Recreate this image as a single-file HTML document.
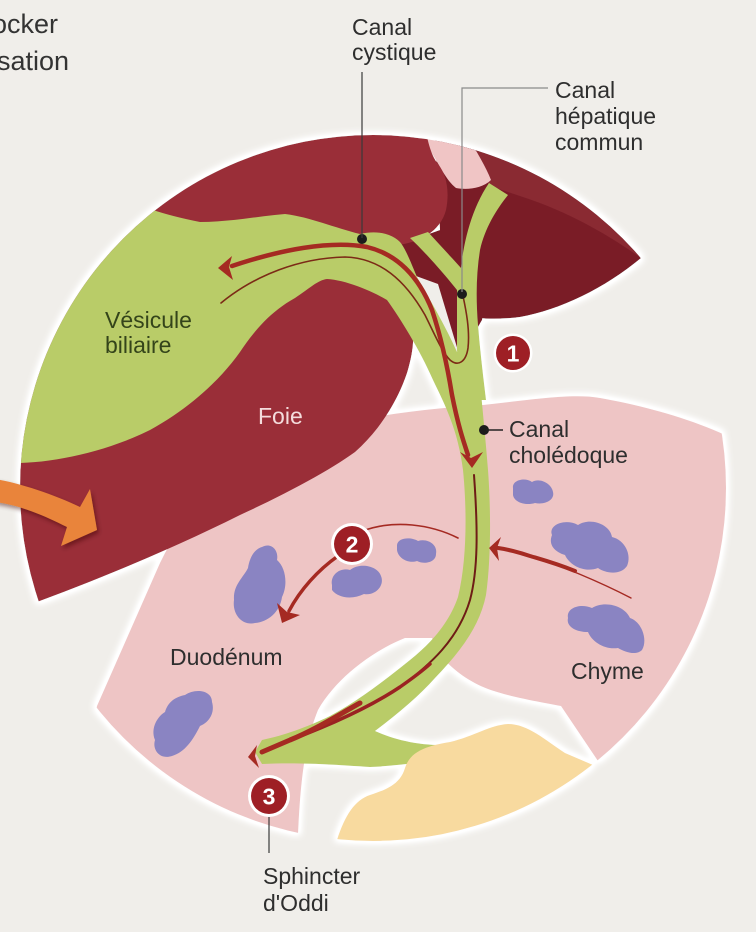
<!DOCTYPE html>
<html><head><meta charset="utf-8"><style>
html,body{margin:0;padding:0;background:#f0eeea;}
svg{display:block;}
text{font-family:"Liberation Sans",Arial,sans-serif;}
</style></head><body>
<svg width="756" height="932" viewBox="0 0 756 932" xmlns="http://www.w3.org/2000/svg">
<defs>
<clipPath id="c"><circle cx="373" cy="488" r="353"/></clipPath>
<filter id="glow" filterUnits="userSpaceOnUse" x="0" y="0" width="756" height="932">
<feMorphology in="SourceAlpha" operator="dilate" radius="2.5" result="d"/>
<feGaussianBlur in="d" stdDeviation="3.5" result="b"/>
<feComponentTransfer in="b" result="b2"><feFuncA type="linear" slope="1.7"/></feComponentTransfer>
<feFlood flood-color="#ffffff" result="w"/>
<feComposite in="w" in2="b2" operator="in" result="g"/>
<feMerge><feMergeNode in="g"/><feMergeNode in="SourceGraphic"/></feMerge>
</filter>
<filter id="sh" filterUnits="userSpaceOnUse" x="0" y="400" width="200" height="200">
<feDropShadow dx="2" dy="3" stdDeviation="2" flood-color="#3a0a0a" flood-opacity="0.45"/>
</filter>
</defs>
<rect width="756" height="932" fill="#f0eeea"/>

<g filter="url(#glow)">
<g clip-path="url(#c)">
<!-- duodenum -->
<path fill="#eec5c5" d="M60,880 L97,706 L160,563 C200,480 260,440 330,425 C380,415 430,408 483,405 C530,400 573,393 600,398 C640,405 700,420 745,445 L760,820 L598,761 L561,706 C540,702 510,697 488,689 C470,682 455,672 440,655 L432,638 L405,638 C370,652 335,680 318,710 C308,735 298,770 297,880 Z"/>
<!-- purple blobs -->
<g fill="#8a84c2">
<path d="M513,488 C512,480 525,477 532,482 C540,477 552,484 553,492 C555,500 545,505 535,503 C525,506 514,502 513,495 Z"/>
<path d="M552,535 C548,525 565,518 578,525 C590,517 610,524 612,537 C625,540 632,555 627,566 C620,576 605,573 598,568 C585,573 570,566 565,555 C555,552 548,545 552,535 Z"/>
<path d="M568,618 C566,608 580,603 592,608 C605,600 625,606 630,618 C642,622 648,640 642,650 C636,656 625,652 618,648 C605,650 592,642 588,632 C575,632 566,626 568,618 Z"/>
<path d="M397,545 C398,537 412,537 418,541 C428,538 438,545 436,554 C436,562 425,565 417,561 C408,564 398,558 397,550 Z"/>
<path d="M332,585 C330,575 340,567 350,570 C360,562 378,566 381,576 C385,586 375,596 364,594 C352,600 338,598 332,590 Z"/>
<path d="M262,547 C271,542 279,550 277,560 C286,568 288,585 282,597 C280,612 268,622 255,623 C242,626 232,614 234,600 C233,585 243,578 248,568 C250,556 255,549 262,547 Z"/>
<path d="M185,695 C195,688 212,690 212,702 C215,712 210,722 200,726 C193,740 185,752 172,756 C160,760 152,750 155,740 C150,728 158,716 165,712 C168,702 175,697 185,695 Z"/>
</g>
<!-- dark V region -->
<path fill="#7a1f28" d="M435,135 L470,135 L495,175 L500,230 L482,320 L460,358 L440,330 L415,275 L398,245 L440,230 Z"/>
<!-- right lobe -->
<path fill="#7a1f28" d="M455,136 C530,150 600,200 641,258 C605,288 560,310 520,317 C505,319 490,319 478,318 L476,250 L480,200 Z"/>
<path fill="#8a2a33" d="M455,136 C530,150 600,200 641,258 C610,236 570,212 520,196 L490,186 L470,160 Z"/>
<!-- pink blob top -->
<path fill="#f0c5c5" d="M415,128 L465,133 C476,150 486,167 491,180 C482,189 466,190 456,188 C446,180 440,166 430,150 Z"/>
<!-- main liver -->
<path fill="#9a2f38" d="M-10,625 L37,602 C110,575 180,545 240,515 C290,492 330,470 355,452 C380,430 398,400 407,373 C411,360 414,345 413,333 L402,290 L398,245 C420,242 440,232 446,210 C450,190 446,174 438,164 C432,156 428,146 424,120 L-10,80 Z"/>
<!-- grey gap -->
<path fill="#f0eeea" d="M416,276 L438,284 L459,354 L450,352 Z"/>
<!-- green: vesicle + cystic + choledoque -->
<path fill="#b9cc68" d="M-10,465 L20,463 C60,462 110,450 150,430 C190,408 220,380 240,352 C255,330 270,312 295,298 C310,288 318,280 327,279 C345,280 370,290 387,300 C400,318 420,350 433,380 C445,405 458,430 463,470 C467,510 467,560 458,597 C450,620 435,640 410,660 C385,680 360,700 330,716 C305,728 285,735 262,740 L255,752 L262,764 C300,762 340,765 370,767 C395,766 420,762 447,760 L449,745 C420,746 395,740 375,731 C400,712 420,695 435,678 C462,650 480,625 486,595 C491,560 491,510 488,470 C485,430 481,400 478,350 L457,352 C445,325 430,300 417,277 C410,260 405,248 400,242 C392,234 378,230 360,234 C335,228 310,217 285,214 C260,216 230,222 200,222 C180,218 165,214 153,210 L140,180 L-10,180 Z"/>
<!-- green: hepatic duct -->
<path fill="#b9cc68" d="M489,183 L508,195 C496,210 485,228 480,250 C476,275 476,300 478,325 C480,350 483,375 486,400 L468,400 C462,380 458,365 457,350 L457,290 C445,275 428,255 410,238 L428,232 C440,245 452,258 461,268 C464,240 472,208 489,183 Z"/>
<!-- pancreas -->
<path fill="#f8da9f" d="M320,880 L337,840 C345,815 355,800 370,795 C385,790 400,785 405,768 C410,752 425,746 450,742 C475,736 490,725 508,724 C528,724 545,740 565,753 L600,768 L620,880 Z"/>

<!-- red lines -->
<g fill="none" stroke-linecap="round">
<path d="M221,303 C255,275 300,258 345,257 C380,258 405,280 425,315 C435,335 442,352 450,360 C458,367 466,362 468,348 C470,330 466,310 463,296" stroke="#7c2a16" stroke-width="1.6"/>
<path d="M232,266 C280,250 330,240 367,247 C400,255 420,280 432,310 C442,340 448,370 452,395 C458,425 463,440 468,455" stroke="#a52a24" stroke-width="4.5"/>
<path d="M474,475 C478,530 478,570 470,600 C458,640 430,665 400,687 C370,707 330,725 290,740 L262,752" stroke="#6e1c14" stroke-width="2"/>
<path d="M430,664 C420,673 410,680 400,687 C370,707 330,725 290,740 L262,752" stroke="#9a2420" stroke-width="3.5"/>
<path d="M360,703 C340,714 315,730 290,740 L262,752" stroke="#a52a24" stroke-width="5"/>
<path d="M458,538 C430,524 395,520 365,530" stroke="#a52a24" stroke-width="1.6"/>
<path d="M338,556 C318,570 300,590 289,611" stroke="#a52a24" stroke-width="3.5"/>
<path d="M631,598 C600,582 560,565 530,556" stroke="#a52a24" stroke-width="1.4"/>
<path d="M575,571 C555,563 540,559 530,556 C515,551 505,549 498,548" stroke="#a52a24" stroke-width="4"/>
</g>
<g fill="#a52a24">
<path d="M218,268 L232,256 L229,267 L233,280 Z"/>
<path d="M460,452 L471,458 L483,452 L472,468 Z"/>
<path d="M248,757 L257,745 L255,756 L259,768 Z"/>
<path d="M282,623 L277,603 L287,612 L300,615 Z"/>
<path d="M489,548 L501,537 L497,548 L499,561 Z"/>
</g>
<!-- dots -->
<g fill="#1a1a1a">
<circle cx="362" cy="239" r="5"/>
<circle cx="462" cy="294" r="5"/>
<circle cx="484" cy="430" r="5"/>
</g>
</g>
</g>

<!-- orange arrow -->
<path filter="url(#sh)" fill="#e9843a" d="M-5,479 C20,483 55,495 80,507 L90,489 L97,530 L61,546 L67,527 C45,516 20,505 -5,502 Z"/>

<!-- leader lines -->
<g fill="none" stroke-width="1.2">
<line x1="362" y1="72" x2="362" y2="238" stroke="#3a3a3a"/>
<polyline points="548,88 462,88 462,292" stroke="#8a8a8a"/>
<line x1="486" y1="430" x2="503" y2="430" stroke="#222" stroke-width="1.6"/>
<line x1="269" y1="815" x2="269" y2="853" stroke="#3a3a3a"/>
</g>

<!-- badges -->
<g>
<circle cx="513" cy="353" r="19.5" fill="#fff"/><circle cx="513" cy="353" r="17" fill="#9e1f25"/>
<text x="513" y="361.5" font-size="23" font-weight="bold" fill="#fff" text-anchor="middle">1</text>
<circle cx="352" cy="544" r="21" fill="#fff"/><circle cx="352" cy="544" r="18" fill="#9e1f25"/>
<text x="352" y="552.5" font-size="23" font-weight="bold" fill="#fff" text-anchor="middle">2</text>
<circle cx="269" cy="796" r="21" fill="#fff"/><circle cx="269" cy="796" r="18" fill="#9e1f25"/>
<text x="269" y="804.5" font-size="23" font-weight="bold" fill="#fff" text-anchor="middle">3</text>
</g>

<!-- text -->
<g font-size="27" fill="#333">
<text x="-8" y="33">ocker</text>
<text x="-3" y="70">sation</text>
</g>
<g font-size="23" fill="#2e2e2e">
<text x="352" y="35">Canal</text>
<text x="352" y="60">cystique</text>
<text x="555" y="98">Canal</text>
<text x="555" y="124">hépatique</text>
<text x="555" y="150">commun</text>
<text x="509" y="437">Canal</text>
<text x="509" y="463">cholédoque</text>
<text x="170" y="665">Duodénum</text>
<text x="571" y="679">Chyme</text>
<text x="263" y="884">Sphincter</text>
<text x="263" y="911">d'Oddi</text>
</g>
<g font-size="23">
<text x="105" y="328" fill="#34441a">Vésicule</text>
<text x="105" y="353" fill="#34441a">biliaire</text>
<text x="258" y="424" fill="#f4dcdc">Foie</text>
</g>
</svg>
</body></html>
